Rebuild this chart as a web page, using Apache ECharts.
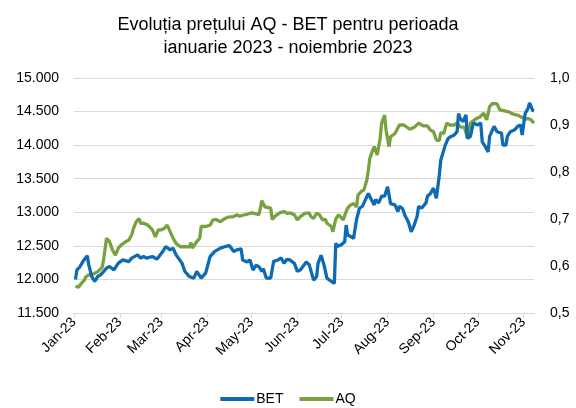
<!DOCTYPE html>
<html><head><meta charset="utf-8">
<script src="https://cdn.jsdelivr.net/npm/echarts@6/dist/echarts.min.js"></script>
<style>html,body{margin:0;padding:0;background:#fff}#c{width:576px;height:408px}</style>
</head><body><div id="c"></div>
<script>
const YEAR = '2023-';
const monthLabels = ['Jan-23','Feb-23','Mar-23','Apr-23','May-23','Jun-23','Jul-23','Aug-23','Sep-23','Oct-23','Nov-23','Dec-23'];
const leftTicks = [11500, 12000, 12500, 13000, 13500, 14000, 14500, 15000];
const rightTicks = [0.5, 0.6, 0.7, 0.8, 0.9, 1.0];

const betDates = ['01-02','01-03','01-05','01-07','01-10','01-11','01-13','01-15','01-17','01-19','01-23','01-25','01-28','01-31','02-03','02-07','02-09','02-13','02-15','02-17','02-19','02-23','02-26','03-02','03-04','03-07','03-09','03-11','03-15','03-17','03-20','03-23','03-25','03-28','03-31',
'04-03','04-06','04-10','04-13','04-16','04-19','04-21','04-24','04-25','04-28','04-30','05-02','05-04','05-06','05-08','05-09','05-11','05-14','05-16','05-19','05-21','05-23','05-25','05-27','05-30','06-01','06-03','06-07','06-09','06-12','06-14','06-15','06-17','06-19','06-21','06-24','06-26','06-27','06-28','07-01','07-03','07-04','07-05','07-07','07-09','07-11','07-13','07-15','07-16','07-19','07-21','07-23','07-24','07-26','07-28','07-30','08-01','08-02','08-03','08-06','08-08','08-09','08-11','08-13','08-15','08-17','08-19','08-21','08-22','08-24','08-27','08-28','08-30','09-01','09-03','09-05','09-06','09-09','09-11','09-13','09-15','09-17','09-18','09-19','09-21','09-23','09-24','09-26','09-28','10-01','10-03','10-04','10-06','10-08','10-09','10-12','10-14','10-17','10-18','10-20','10-21','10-23','10-26','10-28','10-30','10-31','11-02','11-04','11-05','11-07','11-08'];
const betValues = [12000,12143,12188,12266,12351,12217,12043,11969,12043,12069,12168,12192,12143,12243,12292,12266,12317,12366,12317,12341,12317,12341,12302,12415,12490,12441,12466,12366,12243,12118,12043,12019,12118,12019,12094,
12340,12415,12466,12490,12505,12415,12440,12455,12290,12260,12290,12140,12210,12190,12120,12160,12020,12020,12270,12290,12320,12240,12300,12290,12240,12120,12140,12260,12220,11990,12040,12240,12360,12220,12020,11970,11940,12540,12490,12520,12560,12810,12660,12640,12610,12890,13060,13090,13140,13280,13190,13110,13190,13140,13240,13240,13380,13260,13130,13110,13010,13090,13060,12940,12860,12710,12810,12940,13090,13060,13140,13240,13280,13360,13210,13560,13780,14000,14100,14130,14150,14200,14470,14400,14350,14450,14100,14130,14330,14300,14330,14050,13980,13900,14130,14280,14200,14180,14000,14000,14130,14200,14230,14280,14300,14150,14470,14550,14630,14520,14510];

const aqDates = ['01-02','01-04','01-06','01-08','01-09','01-11','01-14','01-17','01-20','01-21','01-23','01-25','01-27','01-29','01-31','02-02','02-05','02-07','02-09','02-10','02-12','02-14','02-15','02-17','02-20','02-23','02-25','02-27','03-01','03-03','03-05','03-07','03-09','03-11','03-14','03-17','03-20','03-21','03-22','03-25','03-27','03-28','03-31','04-03','04-05','04-07','04-10','04-12','04-15','04-19','04-21','04-23','04-25','04-28','05-01','05-03','05-06','05-07','05-08','05-10','05-11','05-14','05-15','05-17','05-20','05-23','05-25','05-27','05-30','06-01','06-03','06-06','06-09','06-10','06-12','06-14','06-16','06-18','06-20','06-21','06-24','06-25','06-27','06-29','07-02','07-04','07-05','07-07','07-09','07-11','07-12','07-14','07-16','07-18','07-19','07-20','07-22','07-23','07-25','07-27','07-28','07-30','07-31','08-02','08-03','08-06','08-07','08-09','08-10','08-12','08-16','08-19','08-22','08-25','08-28','08-30','09-01','09-03','09-05','09-06','09-08','09-10','09-12','09-15','09-17','09-19','09-22','09-24','09-26','09-30','10-02','10-05','10-07','10-09','10-11','10-14','10-16','10-19','10-22','10-25','10-28','10-31','11-02','11-04','11-06','11-08'];
const aqValues = [0.557,0.555,0.563,0.570,0.577,0.581,0.583,0.588,0.597,0.613,0.659,0.652,0.634,0.623,0.638,0.645,0.652,0.655,0.666,0.678,0.694,0.701,0.691,0.691,0.687,0.677,0.662,0.677,0.677,0.680,0.687,0.673,0.659,0.648,0.641,0.641,0.641,0.650,0.638,0.652,0.659,0.684,0.684,0.687,0.698,0.699,0.694,0.699,0.704,0.705,0.709,0.706,0.708,0.710,0.713,0.712,0.709,0.723,0.739,0.726,0.726,0.723,0.699,0.706,0.713,0.716,0.712,0.713,0.709,0.698,0.705,0.712,0.713,0.706,0.701,0.712,0.709,0.698,0.699,0.691,0.684,0.673,0.700,0.709,0.698,0.716,0.723,0.730,0.733,0.726,0.751,0.758,0.762,0.783,0.804,0.829,0.847,0.854,0.836,0.872,0.904,0.921,0.889,0.854,0.875,0.882,0.879,0.900,0.896,0.900,0.891,0.895,0.904,0.898,0.898,0.889,0.886,0.868,0.867,0.884,0.882,0.904,0.900,0.900,0.904,0.896,0.895,0.872,0.904,0.914,0.916,0.925,0.911,0.939,0.946,0.945,0.932,0.930,0.928,0.923,0.921,0.916,0.912,0.914,0.911,0.904];

const FONT = 'Liberation Sans, Arial, sans-serif';
const chart = echarts.init(document.getElementById('c'), null, {renderer: 'canvas'});
chart.setOption({
  animation: false,
  backgroundColor: '#fff',
  title: {
    text: 'Evoluția prețului AQ - BET pentru perioada\nianuarie 2023 - noiembrie 2023',
    left: 'center', top: 9,
    textStyle: {fontFamily: FONT, fontSize: 18, fontWeight: 'normal', color: '#000', lineHeight: 23}
  },
  legend: {
    bottom: -3, left: 'center', itemGap: 16,
    icon: 'rect', itemWidth: 34, itemHeight: 4,
    textStyle: {fontFamily: FONT, fontSize: 14, color: '#000', padding: [0,0,0,-3]},
    data: ['BET', 'AQ']
  },
  grid: {left: 74, right: 42, top: 78, bottom: 95, containLabel: false},
  xAxis: {
    type: 'time',
    min: YEAR + '01-01', max: YEAR + '11-08',
    minInterval: 28 * 86400000, maxInterval: 31 * 86400000,
    axisLine: {show: true, lineStyle: {color: '#d9d9d9', width: 1}},
    axisTick: {show: true, length: 5, lineStyle: {color: '#d9d9d9'}},
    splitLine: {show: false},
    axisLabel: {
      rotate: 45, fontFamily: FONT, fontSize: 14, color: '#000', margin: 7,
      showMaxLabel: false,
      formatter: function (v) { return monthLabels[new Date(v).getMonth()]; }
    }
  },
  yAxis: [{
    type: 'value', min: leftTicks[0], max: leftTicks[leftTicks.length - 1], interval: 500,
    axisLine: {show: false}, axisTick: {show: false},
    splitLine: {lineStyle: {color: '#d9d9d9', width: 1}},
    axisLabel: {fontFamily: FONT, fontSize: 14, color: '#000', margin: 15,
      formatter: function (v) { return (v / 1000).toFixed(3); }}
  }, {
    type: 'value', min: rightTicks[0], max: rightTicks[rightTicks.length - 1], interval: 0.1,
    axisLine: {show: false}, axisTick: {show: false}, splitLine: {show: false},
    axisLabel: {fontFamily: FONT, fontSize: 14, color: '#000', margin: 16,
      formatter: function (v) { return v.toFixed(1).replace('.', ','); }}
  }],
  series: [{
    name: 'BET', type: 'line', yAxisIndex: 0, showSymbol: false, symbol: 'none',
    lineStyle: {color: '#0e6ab2', width: 3.3}, itemStyle: {color: '#0e6ab2'},
    data: betDates.map((d, i) => [YEAR + d, betValues[i]]), z: 3
  }, {
    name: 'AQ', type: 'line', yAxisIndex: 1, showSymbol: false, symbol: 'none',
    lineStyle: {color: '#78a240', width: 3.3}, itemStyle: {color: '#78a240'},
    data: aqDates.map((d, i) => [YEAR + d, aqValues[i]]), z: 2
  }]
});
</script></body></html>
